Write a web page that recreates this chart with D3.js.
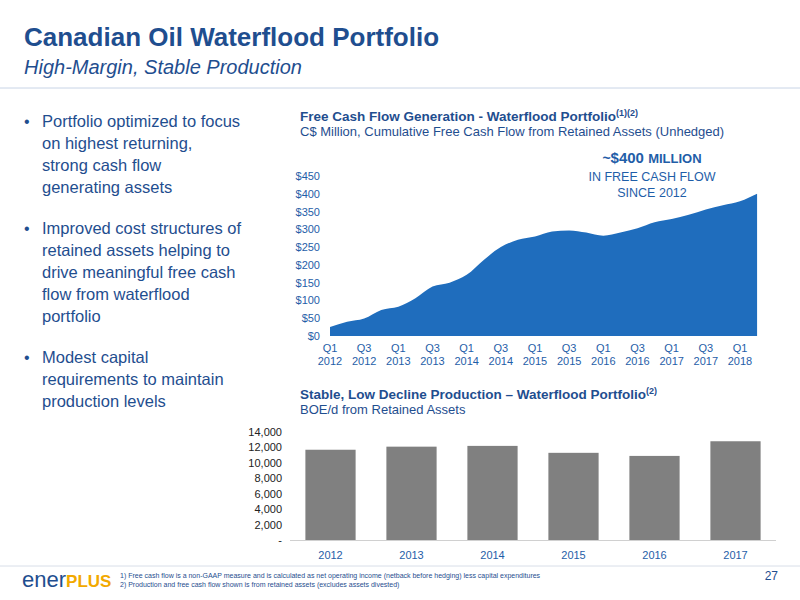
<!DOCTYPE html>
<html><head><meta charset="utf-8">
<script src="https://cdn.jsdelivr.net/npm/d3@7"></script>
<style>
body{margin:0;background:#fff;font-family:"Liberation Sans",Arial,sans-serif;}
svg text{font-family:"Liberation Sans",Arial,sans-serif;}
</style></head><body>
<svg id="chart" width="800" height="600"></svg>
<script>
// cumulative free cash flow, C$ million, Q1 2012 .. Q2 2018
const quarters = d3.range(26);
const fcfValues = [25,40,49,73,82,106,139,150,172,214,250,271,280,294,297,291,282,291,303,320,329,341,356,368,379,400];
const quarterLabels = ["Q1","Q3","Q1","Q3","Q1","Q3","Q1","Q3","Q1","Q3","Q1","Q3","Q1"];
const quarterYears = ["2012","2012","2013","2013","2014","2014","2015","2015","2016","2016","2017","2017","2018"];
const fcfTicks = [0,50,100,150,200,250,300,350,400,450];
// production, BOE/d
const years = ["2012","2013","2014","2015","2016","2017"];
const boeValues = [11700,12100,12200,11300,10900,12800];
const boeTicks = [0,2000,4000,6000,8000,10000,12000,14000];

const blue = "#1f6dbd", navy = "#1f4e8f", tickCol = "#1f5ea8";
const svg = d3.select("#chart");

svg.append("text").attr("x",24).attr("y",46).attr("font-size",26).attr("font-weight","bold").attr("fill",navy).text("Canadian Oil Waterflood Portfolio");
svg.append("text").attr("x",24).attr("y",74).attr("font-size",20).attr("font-style","italic").attr("fill",navy).text("High-Margin, Stable Production");
svg.append("line").attr("x1",0).attr("x2",800).attr("y1",88).attr("y2",88).attr("stroke","#c8d4e6").attr("stroke-width",1);

// bullets
const bullets = [
  ["Portfolio optimized to focus","on highest returning,","strong cash flow","generating assets"],
  ["Improved cost structures of","retained assets helping to","drive meaningful free cash","flow from waterflood","portfolio"],
  ["Modest capital","requirements to maintain","production levels"]];
let by = 127;
bullets.forEach(b => {
  svg.append("text").attr("x",24).attr("y",by).attr("font-size",16).attr("fill",navy).text("•");
  b.forEach((l,i)=>svg.append("text").attr("x",42).attr("y",by+i*22).attr("font-size",16.5).attr("fill",navy).text(l));
  by += (b.length-1)*22 + 41;
});

// area chart
const t1 = svg.append("text").attr("x",300).attr("y",121).attr("font-size",13.5).attr("font-weight","bold").attr("fill",navy);
t1.append("tspan").text("Free Cash Flow Generation - Waterflood Portfolio");
t1.append("tspan").attr("font-size",9).attr("dy",-5).text("(1)(2)");
svg.append("text").attr("x",300).attr("y",136).attr("font-size",13).attr("fill",navy).text("C$ Million, Cumulative Free Cash Flow from Retained Assets (Unhedged)");

const x = d3.scaleLinear().domain([0,24]).range([330,740]);
const y = d3.scaleLinear().domain([0,450]).range([336,176]);
svg.append("path").datum(fcfValues)
  .attr("fill",blue)
  .attr("d", d3.area().x((d,i)=>x(quarters[i])).y0(y(0)).y1(d=>y(d)).curve(d3.curveMonotoneX));

const yAx = svg.append("g").attr("transform","translate(322,0)")
  .call(d3.axisLeft(y).tickValues(fcfTicks).tickFormat(d=>"$"+d).tickSize(0).tickPadding(2));
yAx.select(".domain").remove();
yAx.selectAll("text").attr("font-size",11).attr("fill",tickCol);

quarterLabels.forEach((q,i)=>{
  svg.append("text").attr("x",x(i*2)).attr("y",352).attr("text-anchor","middle").attr("font-size",11).attr("fill",tickCol).text(q);
  svg.append("text").attr("x",x(i*2)).attr("y",365).attr("text-anchor","middle").attr("font-size",11).attr("fill",tickCol).text(quarterYears[i]);
});

const ann = svg.append("text").attr("x",652).attr("y",163).attr("text-anchor","middle").attr("fill",tickCol).attr("font-weight","bold");
ann.append("tspan").attr("font-size",14).text("~");
ann.append("tspan").attr("font-size",15).text("$400 ");
ann.append("tspan").attr("font-size",13).text("MILLION");
svg.append("text").attr("x",652).attr("y",181).attr("text-anchor","middle").attr("font-size",12.5).attr("fill",tickCol).text("IN FREE CASH FLOW");
svg.append("text").attr("x",652).attr("y",197).attr("text-anchor","middle").attr("font-size",12.5).attr("fill",tickCol).text("SINCE 2012");

// bar chart
const t2 = svg.append("text").attr("x",300).attr("y",399).attr("font-size",13.5).attr("font-weight","bold").attr("fill",navy);
t2.append("tspan").text("Stable, Low Decline Production – Waterflood Portfolio");
t2.append("tspan").attr("font-size",9).attr("dy",-5).text("(2)");
svg.append("text").attr("x",300).attr("y",414).attr("font-size",13).attr("fill",navy).text("BOE/d from Retained Assets");

const xb = d3.scaleBand().domain(years).range([290,776]).paddingInner(0.38).paddingOuter(0.19);
const yb = d3.scaleLinear().domain([0,14000]).range([540,432]);
svg.selectAll(".bar").data(boeValues).join("rect").attr("class","bar")
  .attr("x",(d,i)=>xb(years[i])).attr("width",xb.bandwidth())
  .attr("y",d=>yb(d)).attr("height",d=>yb(0)-yb(d)).attr("fill","#808080");
svg.append("line").attr("x1",290).attr("x2",776).attr("y1",540.5).attr("y2",540.5).attr("stroke","#d0d0d0");
const ybAx = svg.append("g").attr("transform","translate(282,0)")
  .call(d3.axisLeft(yb).tickValues(boeTicks).tickFormat(d=>d===0?"-":d3.format(",")(d)).tickSize(0).tickPadding(0));
ybAx.select(".domain").remove();
ybAx.selectAll("text").attr("font-size",11).attr("fill","#222");
const xbAx = svg.append("g").attr("transform","translate(0,545)")
  .call(d3.axisBottom(xb).tickSize(0).tickPadding(6));
xbAx.select(".domain").remove();
xbAx.selectAll("text").attr("font-size",11).attr("fill",tickCol);

// footer
svg.append("line").attr("x1",0).attr("x2",800).attr("y1",566).attr("y2",566).attr("stroke","#d8dee8");
const logo = svg.append("text").attr("x",22).attr("y",587).attr("font-size",22);
logo.append("tspan").attr("fill",navy).text("ener");
logo.append("tspan").attr("fill","#f2a900").attr("font-weight","bold").attr("font-size",17).text("PLUS");
svg.append("text").attr("x",120).attr("y",578).attr("font-size",7).attr("fill",navy).text("1) Free cash flow is a non-GAAP measure and is calculated as net operating income (netback before hedging) less capital expenditures");
svg.append("text").attr("x",120).attr("y",587).attr("font-size",7).attr("fill",navy).text("2) Production and free cash flow shown is from retained assets (excludes assets divested)");
svg.append("text").attr("x",778).attr("y",580).attr("text-anchor","end").attr("font-size",12).attr("fill",navy).text("27");
</script>
</body></html>
